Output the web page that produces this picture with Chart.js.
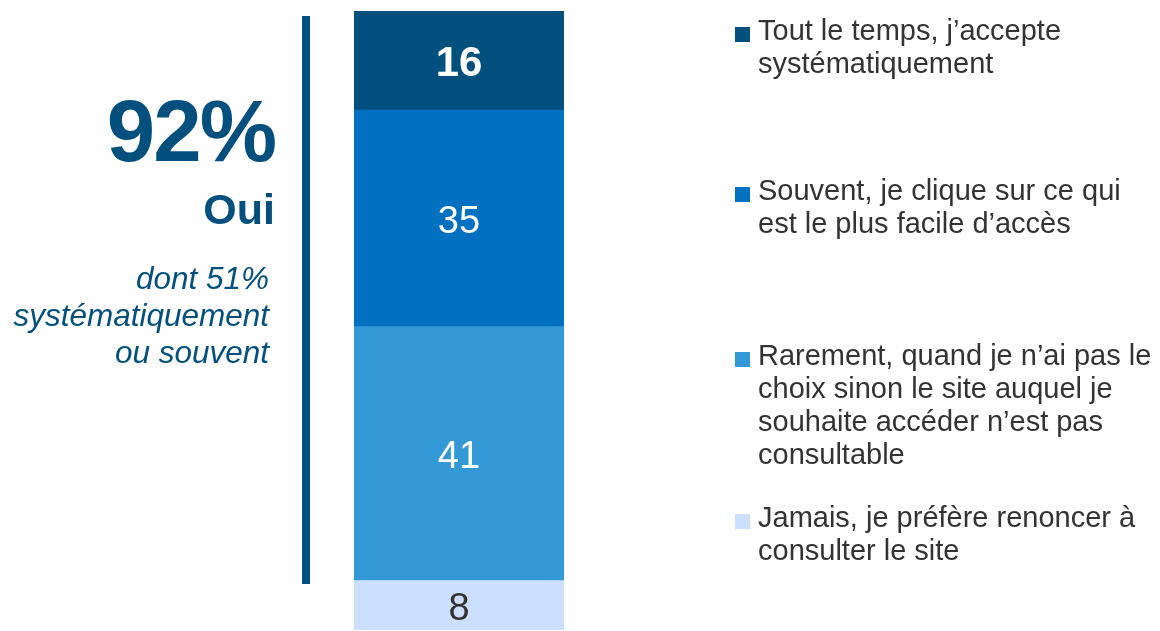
<!DOCTYPE html>
<html>
<head>
<meta charset="utf-8">
<script src="https://cdn.jsdelivr.net/npm/chart.js@4.4.1/dist/chart.umd.min.js"></script>
<style>
    body { margin: 0; background: #fff; font-family: "Liberation Sans", Arial, sans-serif; }
    #wrap { position: relative; width: 1160px; height: 631px; }
    #graphique { position: absolute; left: 0; top: 0; }
    .gauche { position: absolute; right: 885px; text-align: right; color: #03507f; white-space: nowrap; }
    #trait { position: absolute; left: 302px; top: 16px; width: 8px; height: 568px; background: #03507f; }
    .legende { position: absolute; left: 735px; color: #333; font-size: 29px; line-height: 33px; }
    .legende .carre { position: absolute; left: 0; top: 13px; width: 15px; height: 15px; }
    .legende .texte { margin-left: 23px; white-space: nowrap; }
</style>
</head>
<body>
<div id="wrap">
    <canvas id="graphique" width="1160" height="631"></canvas>
    <div class="gauche" style="top:81px; right:885px; font-size:87px; font-weight:bold; line-height:100px; letter-spacing:-2px;">92%</div>
    <div class="gauche" style="top:184px; font-size:43px; font-weight:bold; line-height:50px;">Oui</div>
    <div class="gauche" style="top:260px; right:891px; font-size:31.5px; font-style:italic; line-height:37px;">dont 51%<br>systématiquement<br>ou souvent</div>
    <div id="trait"></div>
    <div id="legende"></div>
</div>
<script>
    // ordre de haut en bas
    const reponses = [
        ['Tout le temps, j\u2019accepte', 'systématiquement'],
        ['Souvent, je clique sur ce qui', 'est le plus facile d\u2019accès'],
        ['Rarement, quand je n\u2019ai pas le', 'choix sinon le site auquel je', 'souhaite accéder n\u2019est pas', 'consultable'],
        ['Jamais, je préfère renoncer à', 'consulter le site']
    ];
    const valeurs = [16, 35, 41, 8];
    const couleurs = ['#03507f', '#0070c0', '#3399d6', '#cddffe'];
    const couleurs_texte = ['#ffffff', '#ffffff', '#ffffff', '#333333'];
    const gras = [true, false, false, false];
    const legende_top = [14, 174, 339, 501];

    // legende html
    let html = '';
    for (let i = 0; i < reponses.length; i++) {
        html += '<div class="legende" style="top:' + legende_top[i] + 'px">'
            + '<div class="carre" style="background:' + couleurs[i] + '"></div>'
            + '<div class="texte">' + reponses[i].join('<br>') + '</div></div>';
    }
    document.getElementById('legende').innerHTML = html;

    // chart.js empile du bas vers le haut, donc on inverse
    const datasets = [];
    for (let i = valeurs.length - 1; i >= 0; i--) {
        datasets.push({
            label: reponses[i].join(' '),
            data: [valeurs[i]],
            backgroundColor: couleurs[i],
            borderWidth: 0,
            barPercentage: 1,
            categoryPercentage: 1,
            couleurTexte: couleurs_texte[i],
            gras: gras[i]
        });
    }

    const etiquettes = {
        id: 'etiquettes',
        afterDatasetsDraw(chart) {
            const ctx = chart.ctx;
            ctx.save();
            ctx.textAlign = 'center';
            ctx.textBaseline = 'middle';
            chart.data.datasets.forEach(function (ds, i) {
                const barre = chart.getDatasetMeta(i).data[0];
                const milieu = (barre.y + barre.base) / 2;
                ctx.fillStyle = ds.couleurTexte;
                ctx.font = ds.gras ? 'bold 42px "Liberation Sans", Arial, sans-serif' : '38px "Liberation Sans", Arial, sans-serif';
                ctx.fillText(String(ds.data[0]), barre.x, milieu + 4);
            });
            ctx.restore();
        }
    };

    new Chart(document.getElementById('graphique').getContext('2d'), {
        type: 'bar',
        data: {
            labels: ['Total'],
            datasets: datasets
        },
        options: {
            responsive: false,
            animation: false,
            layout: { padding: { left: 354, right: 596, top: 11, bottom: 1 } },
            plugins: { legend: { display: false }, tooltip: { enabled: false } },
            scales: {
                x: { stacked: true, display: false },
                y: { stacked: true, display: false, min: 0, max: 100 }
            }
        },
        plugins: [etiquettes]
    });
</script>
</body>
</html>
